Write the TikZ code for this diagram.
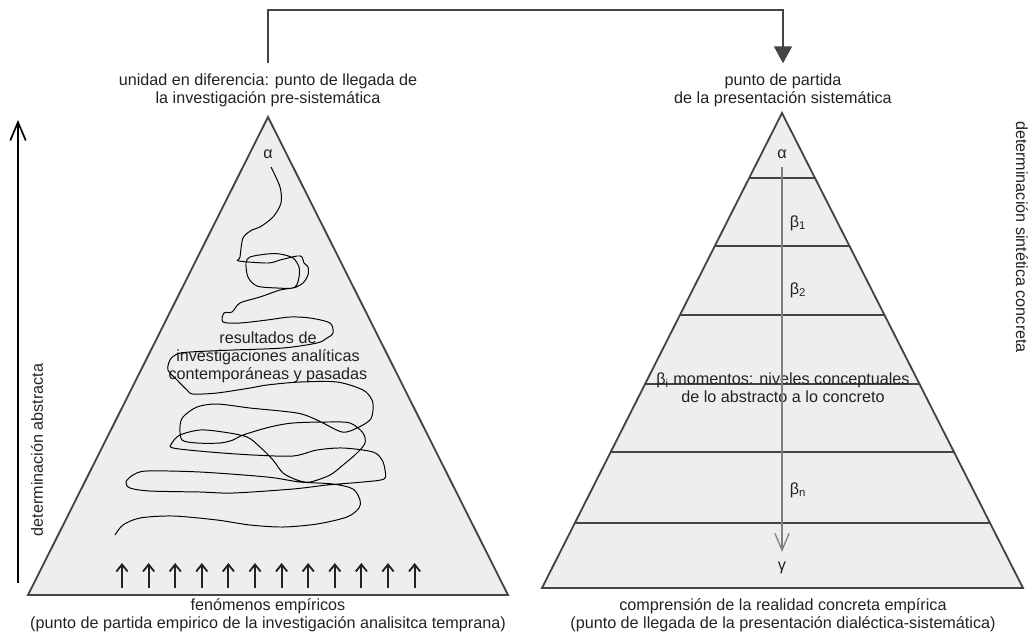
\documentclass[tikz,border=0pt]{standalone}
\usepackage{fontspec}
\setmainfont{Liberation Sans}
\usetikzlibrary{arrows.meta}
\definecolor{pyrfill}{HTML}{EEEEEE}
\definecolor{pyrline}{HTML}{444444}
\definecolor{txtgray}{HTML}{222222}

\begin{document}
\begin{tikzpicture}[
  x=0.025cm, y=-0.025cm,
  lbl/.style={font=\fontsize{11.5}{12.8}\selectfont, text=txtgray, align=center, inner sep=1pt},
  pyr/.style={draw=pyrline, fill=pyrfill, line width=1.3pt, line join=miter}
]
\useasboundingbox (0,0) rectangle (1034,634);

\draw [pyr] (28,595) -- (508,595) -- (268,117) -- cycle;
\draw [pyr] (542,588) -- (1023,588) -- (782,113) -- cycle;

\begin{scope}
  \clip (542,588) -- (1023,588) -- (782,113) -- cycle;
  \foreach \y in {178,246,315,384,452,523}
    \draw [pyrline, line width=1.4pt] (500,\y) -- (1060,\y);
\end{scope}

\node [lbl] (topL) at (268,90) {unidad en diferencia: punto de llegada de\\la investigación pre-sistemática};
\node [lbl] (topR) at (783,90) {punto de partida\\de la presentación sistemática};
\node [lbl] (botL) at (268,615) {fenómenos empíricos\\(punto de partida empirico de la investigación analisitca temprana)};
\node [lbl] (botR) at (783,615) {comprensión de la realidad concreta empírica\\(punto de llegada de la presentación dialéctica-sistemática)};
\node [lbl] (alphaL) at (268,154) {α};
\node [lbl] (alphaR) at (782,154) {α};
\node [lbl] (res) at (268,357) {resultados de\\investigaciones analíticas\\contemporáneas y pasadas};
\node [lbl] (beta1) at (798,223) {β\textsubscript{1}};
\node [lbl] (beta2) at (798,290) {β\textsubscript{2}};
\node [lbl] (mom) at (783,388) {β\textsubscript{i} momentos: niveles conceptuales\\de lo abstracto a lo concreto};
\node [lbl] (betan) at (798,490) {β\textsubscript{n}};
\node [lbl] (gam) at (782,568) {γ};
\node [lbl, rotate=90] (abstr) at (37,450) {determinación abstracta};
\node [lbl, rotate=-90] (sint) at (1022,237) {determinación sintética concreta};

\coordinate (turn) at (783,10);
\draw [pyrline, line width=1.8pt, shorten <=6pt, shorten >=6pt, -{Triangle[length=12pt, width=12.5pt]}]
  (topL.north) |- (turn) -| (topR.north);

\draw [gray, line width=0.9pt, shorten <=5pt, shorten >=6pt, -{Straight Barb[length=12pt, width=10pt]}]
  (alphaR) -- (gam);

\coordinate (absbot) at (18,583);
\coordinate (abstop) at (18,120);
\draw [black, line width=1.2pt, -{Straight Barb[length=13pt, width=11pt]}] (absbot) -- (abstop);

\foreach \i in {0,...,11}
  \draw [txtgray, line width=1.3pt, -{Straight Barb[length=5pt, width=8pt]}]
    (122+\i*26.6,588) -- (122+\i*26.6,563);

\draw [black, line width=0.7pt] plot [smooth, tension=0.5] coordinates {
  (271,167) (280,187) (281,203) (273,217) (260,227) (252,230) (243,238) (240,257) (239,261)
  (268,263) (280,260) (297,256) (302,257) (304,263) (308,267) (308,275) (303,283) (293,288)
  (277,288) (257,286) (248,277) (246,263) (250,257) (267,254) (280,254) (293,258) (299,267)
  (299,277) (295,287) (280,290) (260,297) (240,303) (232,312) (224,313) (223,322) (240,323)
  (267,320) (290,317) (310,318) (330,323) (333,333) (327,338) (317,343) (283,348) (233,350)
  (190,352) (177,354) (170,360) (168,370) (177,380) (187,390) (193,394) (217,393) (250,388)
  (267,385) (300,382) (337,382) (363,390) (372,400) (373,410) (370,420) (357,428) (342,432)
  (317,420) (297,413) (250,408) (217,404) (197,407) (183,417) (180,427) (182,440) (197,443)
  (220,443) (233,440) (243,435) (270,427) (293,423) (327,422) (350,423) (363,433) (365,443)
  (357,453) (343,465) (330,475) (310,482) (297,480) (283,473) (273,460) (260,447) (247,437)
  (223,432) (200,430) (180,435) (172,443) (173,448) (210,452) (253,455) (293,456) (317,450)
  (343,448) (373,452) (382,460) (385,470) (384,479) (363,482) (327,485) (293,489) (233,493)
  (200,492) (150,491) (130,488) (126,482) (133,475) (147,471) (200,472) (267,477) (300,482)
  (333,484) (353,489) (360,500) (359,508) (347,517) (317,524) (283,527) (250,525) (217,520)
  (173,516) (140,518) (123,525) (115,535)};

\end{tikzpicture}
\end{document}
